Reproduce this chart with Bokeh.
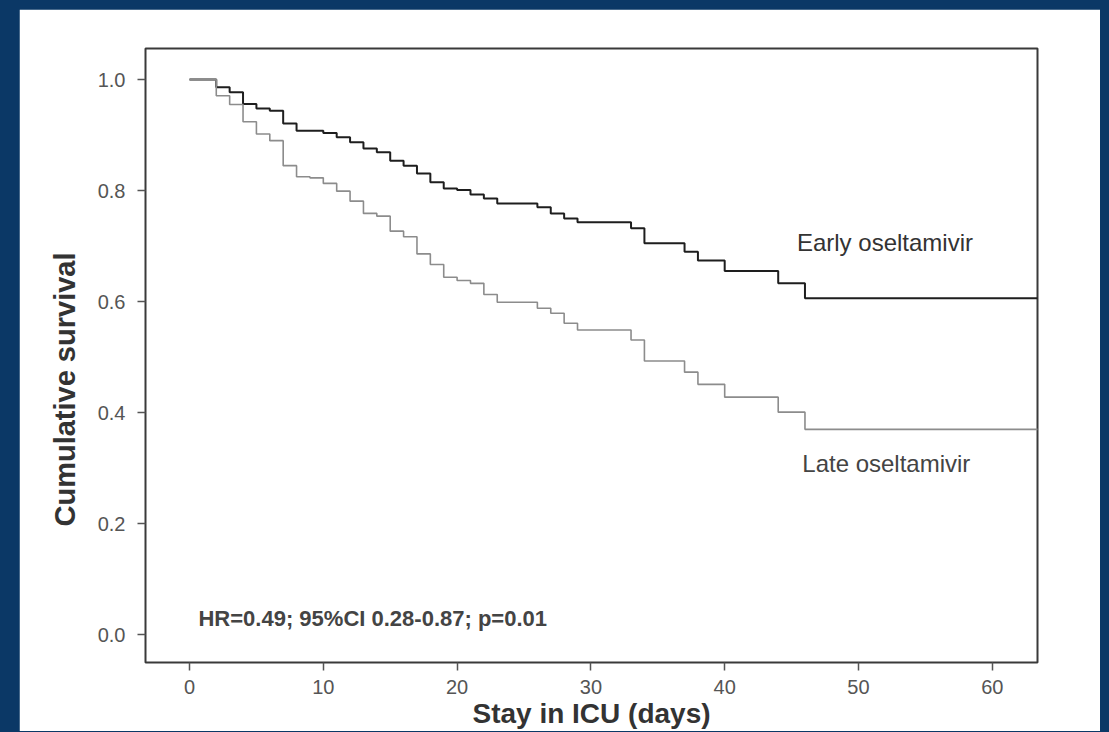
from bokeh.plotting import figure
from bokeh.models import Label, FixedTicker, PrintfTickFormatter, Range1d, Title
from bokeh.layouts import column
from bokeh.embed import file_html
from bokeh.resources import INLINE

# Kaplan-Meier step data (days, cumulative survival)
early_days = [0, 2, 3, 4, 5, 6, 7, 8, 10, 11, 12, 13, 14, 15, 16, 17, 18, 19, 20, 21,
              22, 23, 26, 27, 28, 29, 33, 34, 37, 38, 40, 44, 46, 64]
early_surv = [1.0, 0.986, 0.977, 0.956, 0.948, 0.944, 0.921, 0.908, 0.904, 0.896,
              0.887, 0.876, 0.869, 0.854, 0.845, 0.831, 0.815, 0.804, 0.801, 0.793,
              0.786, 0.777, 0.770, 0.759, 0.750, 0.743, 0.732, 0.705, 0.690, 0.674,
              0.655, 0.633, 0.606, 0.606]

late_days = [0, 2, 3, 4, 5, 6, 7, 8, 9, 10, 11, 12, 13, 14, 15, 16, 17, 18, 19, 20,
             21, 22, 23, 26, 27, 28, 29, 33, 34, 37, 38, 40, 44, 46, 64]
late_surv = [1.0, 0.971, 0.955, 0.924, 0.902, 0.890, 0.845, 0.825, 0.823, 0.813,
             0.799, 0.781, 0.759, 0.754, 0.727, 0.717, 0.686, 0.667, 0.644, 0.638,
             0.633, 0.613, 0.599, 0.588, 0.579, 0.561, 0.549, 0.531, 0.493, 0.473,
             0.451, 0.428, 0.401, 0.370, 0.370]

x_ticks = [0, 10, 20, 30, 40, 50, 60]
y_ticks = [0.0, 0.2, 0.4, 0.6, 0.8, 1.0]

early_label = "Early oseltamivir"
late_label = "Late oseltamivir"
stats_label = "HR=0.49; 95%CI 0.28-0.87; p=0.01"
x_title = "Stay in ICU (days)"
y_title = "Cumulative survival"

FONT = "Liberation Sans"

p = figure(width=1081, height=722, output_backend="svg", toolbar_location=None,
           x_range=Range1d(-3.29, 63.38), y_range=Range1d(-0.050, 1.056),
           min_border_left=126, min_border_right=63, min_border_top=39,
           min_border_bottom=68)

p.background_fill_color = "white"
p.border_fill_color = "white"
p.outline_line_color = "#3a3a3a"
p.outline_line_width = 2
p.xgrid.grid_line_color = None
p.ygrid.grid_line_color = None

p.step(early_days, early_surv, mode="after", line_color="#1e1e1e", line_width=2)
p.step(late_days, late_surv, mode="after", line_color="#8c8c8c", line_width=1.6)

for ax in (p.xaxis[0], p.yaxis[0]):
    ax.axis_line_color = None
    ax.major_tick_line_color = "#555555"
    ax.major_tick_line_width = 1.5
    ax.major_tick_out = 8
    ax.major_tick_in = 0
    ax.minor_tick_line_color = None
    ax.major_label_text_font = FONT
    ax.major_label_text_font_size = "20px"
    ax.major_label_text_color = "#555555"
    ax.axis_label_text_font = FONT
    ax.axis_label_text_font_size = "28px"
    ax.axis_label_text_font_style = "bold"
    ax.axis_label_text_color = "#333333"

p.xaxis.ticker = FixedTicker(ticks=x_ticks)
p.yaxis.ticker = FixedTicker(ticks=y_ticks)
p.yaxis.formatter = PrintfTickFormatter(format="%.1f")
p.xaxis.axis_label = x_title
p.xaxis.major_label_standoff = 9
p.xaxis.axis_label_standoff = 1
p.yaxis.major_label_standoff = 12

# y-axis title as a left-side title, shifted along the axis like the original
p.add_layout(Title(text=y_title, align="left", offset=136, standoff=27,
                   text_font=FONT, text_font_size="29px", text_font_style="bold",
                   text_color="#333333"), "left")

p.add_layout(Label(x=45.4, y=0.707, text=early_label, text_font=FONT,
                   text_font_size="24px", text_color="#333333",
                   text_baseline="middle"))
p.add_layout(Label(x=45.8, y=0.309, text=late_label, text_font=FONT,
                   text_font_size="24px", text_color="#444444",
                   text_baseline="middle"))
p.add_layout(Label(x=0.67, y=0.029, text=stats_label, text_font=FONT,
                   text_font_size="22px", text_font_style="bold",
                   text_color="#444444", text_baseline="middle"))

layout = column(p, styles={"background-color": "#0b3866",
                           "padding": "9px 9px 1px 19px"})

open("out.html", "w").write(file_html(layout, INLINE))
